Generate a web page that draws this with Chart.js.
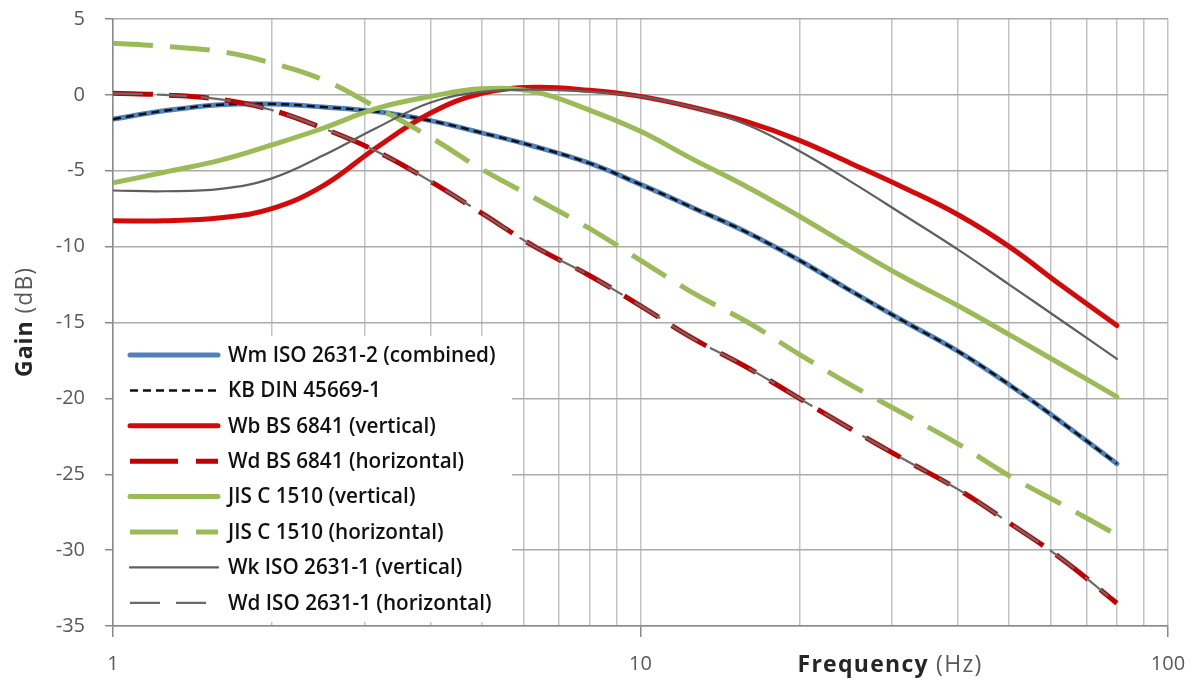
<!DOCTYPE html>
<html><head><meta charset="utf-8">
<script src="https://cdn.jsdelivr.net/npm/chart.js@4.4.1/dist/chart.umd.min.js"></script>
<style>html,body{margin:0;padding:0;background:#fff;overflow:hidden}#wrap{width:1200px;height:684px;position:relative}</style>
</head><body><div id="wrap"><canvas id="c"></canvas></div>
<script>
// ---- data ----
const freqs   = [1,1.25,1.6,2,2.5,3.15,4,5,6.3,8,10,12.5,16,20,25,31.5,40,50,63,80];
const wmISO   = [-1.6,-1.05,-0.65,-0.6,-0.8,-1.1,-1.7,-2.5,-3.4,-4.5,-5.9,-7.4,-9.1,-10.9,-12.9,-14.9,-16.9,-19.1,-21.6,-24.3];
const kbDIN   = [-1.6,-1.05,-0.65,-0.6,-0.8,-1.1,-1.7,-2.5,-3.4,-4.5,-5.9,-7.4,-9.1,-10.9,-12.9,-14.9,-16.9,-19.1,-21.6,-24.3];
const wbBS    = [-8.3,-8.3,-8.1,-7.5,-6.0,-3.5,-1.2,0.1,0.5,0.3,-0.1,-0.8,-1.8,-3.0,-4.5,-6.1,-7.9,-10.0,-12.6,-15.2];
const wdBS    = [0.1,0.0,-0.3,-1.0,-2.2,-3.7,-5.7,-7.8,-10.0,-11.9,-13.9,-16.0,-18.0,-20.0,-22.0,-24.0,-26.0,-28.2,-30.6,-33.5];
const jisV    = [-5.8,-5.1,-4.3,-3.3,-2.2,-0.9,-0.1,0.4,0.2,-1.0,-2.4,-4.2,-6.1,-8.0,-10.0,-12.0,-13.9,-15.8,-17.8,-19.9];
const jisH    = [3.4,3.2,2.85,2.1,1.0,-0.8,-2.8,-4.9,-6.8,-8.8,-10.9,-13.0,-15.0,-17.1,-19.1,-21.0,-23.0,-25.1,-27.0,-29.0];
const wkISO   = [-6.3,-6.35,-6.2,-5.5,-4.0,-2.2,-0.5,0.2,0.35,0.2,-0.1,-0.8,-2.0,-3.7,-5.7,-7.9,-10.2,-12.5,-14.9,-17.4];
const wdISO   = [0.1,0.0,-0.3,-1.0,-2.2,-3.7,-5.7,-7.8,-10.0,-11.9,-13.9,-16.0,-18.0,-20.0,-22.0,-24.0,-26.0,-28.2,-30.6,-33.5];
const seriesLabels = ['Wm ISO 2631-2 (combined)','KB DIN 45669-1','Wb BS 6841 (vertical)','Wd BS 6841 (horizontal)','JIS C 1510 (vertical)','JIS C 1510 (horizontal)','Wk ISO 2631-1 (vertical)','Wd ISO 2631-1 (horizontal)'];
const xTickValues = [1,2,3,4,5,6,7,8,9,10,20,30,40,50,60,70,80,90,100];
const xTickLabels = {1:'1',10:'10',100:'100'};
const yMin = -35, yMax = 5, yStep = 5;
const xTitleBold = 'Frequency', xTitleUnit = '(Hz)';
const yTitleBold = 'Gain', yTitleUnit = '(dB)';

const pts = arr => freqs.map((f,i)=>({x:f,y:arr[i]}));
const styles = [
  {c:'#4f81bd', w:5, d:[]},
  {c:'#111111', w:2.5, d:[8,5]},
  {c:'#d40a0a', w:5, d:[]},
  {c:'#c00000', w:5, d:[40,16]},
  {c:'#9bbb59', w:5, d:[]},
  {c:'#9bbb59', w:5, d:[40,17]},
  {c:'#5f5f5f', w:2.2, d:[]},
  {c:'#6a6a6a', w:2.2, d:[30,14]}
];
const allSeries = [wmISO,kbDIN,wbBS,wdBS,jisV,jisH,wkISO,wdISO];
const datasets = allSeries.map((arr,i)=>({
  label: seriesLabels[i], data: pts(arr),
  borderColor: styles[i].c, backgroundColor: styles[i].c,
  borderWidth: styles[i].w, borderDash: styles[i].d,
  pointRadius: 0, fill:false, tension:0.4,
  borderCapStyle: styles[i].d.length ? 'butt':'round',
  order: 8 - i
}));

const FONT = '"Open Sans", "Liberation Sans", sans-serif';

function drawTitle(ctx, bold, unit, size, target){
  const bF='700 '+size+'px '+FONT, nF='400 '+size+'px '+FONT;
  ctx.font=bF; const wb=ctx.measureText(bold+' ').width;
  ctx.font=nF; const wn=ctx.measureText(unit).width;
  const nChars = (bold+' '+unit).length;
  let ls = Math.max(0,(target-(wb+wn))/nChars);
  ctx.letterSpacing = ls.toFixed(2)+'px';
  ctx.font=bF; const wb2=ctx.measureText(bold+' ').width;
  ctx.font=nF; const wn2=ctx.measureText(unit).width;
  const s = -(wb2+wn2)/2;
  ctx.textAlign='left'; ctx.textBaseline='middle';
  ctx.font=bF; ctx.fillStyle='#262626'; ctx.fillText(bold, s, 0);
  ctx.font=nF; ctx.fillStyle='#595959'; ctx.fillText(unit, s+wb2, 0);
  ctx.letterSpacing='0px';
}

const custom = {
  id:'custom',
  afterDatasetsDraw(chart){
    const ctx = chart.ctx;
    ctx.save();
    const bx=114, by=336, bw=398, bh=286;
    ctx.fillStyle='#ffffff';
    ctx.fillRect(bx,by,bw,bh);
    const rowY0=355, rowStep=35.4, lx0=130, lx1=218, tx=228;
    ctx.font = '600 20px ' + FONT;
    const w0 = ctx.measureText(seriesLabels[0]).width;
    const fs = Math.max(14, Math.min(24, 20*268/w0));
    chart.data.datasets.forEach((ds,i)=>{
      const y = rowY0 + i*rowStep;
      ctx.beginPath();
      ctx.strokeStyle = ds.borderColor;
      ctx.lineWidth = ds.borderWidth;
      let dash = ds.borderDash;
      if (i===3 || i===5) dash=[48,18];
      if (i===7) dash=[30,16];
      ctx.setLineDash(dash);
      ctx.lineCap = dash.length ? 'butt':'round';
      ctx.moveTo(lx0,y); ctx.lineTo(lx1,y); ctx.stroke();
      ctx.setLineDash([]);
      ctx.fillStyle='#111111';
      ctx.font = '600 '+fs.toFixed(1)+'px '+FONT;
      ctx.textAlign='left'; ctx.textBaseline='middle';
      ctx.fillText(ds.label, tx, y+1);
    });
    ctx.restore();
  },
  afterDraw(chart){
    const ctx = chart.ctx;
    ctx.save();
    ctx.translate(890, 665);
    drawTitle(ctx, xTitleBold, xTitleUnit, 23, 185);
    ctx.restore();
    ctx.save();
    ctx.translate(25, 322); ctx.rotate(-Math.PI/2);
    drawTitle(ctx, yTitleBold, yTitleUnit, 23, 110);
    ctx.restore();
  }
};

new Chart(document.getElementById('c'), {
  type:'line',
  data:{ datasets },
  plugins:[custom],
  options:{
    responsive:true, maintainAspectRatio:false, animation:false,
    layout:{ padding:{ left:0, right:32, top:19, bottom:0 } },
    plugins:{ legend:{display:false}, tooltip:{enabled:false}, title:{display:false} },
    scales:{
      x:{
        type:'logarithmic', min:1, max:100,
        afterBuildTicks: s => { s.ticks = xTickValues.map(v=>({value:v})); },
        afterFit: s => { s.height = 58; s.paddingLeft = 0; s.paddingRight = 0; },
        ticks:{ autoSkip:false, maxRotation:0, padding:15, color:'#595959',
          font:{ family:FONT, size:20 },
          callback: v => xTickLabels[v] || '' },
        grid:{ color:'#c3c3c3', lineWidth:1.5, tickLength:11,
          tickColor: c => (c.tick && xTickLabels[c.tick.value]) ? '#8a8a8a' : 'rgba(0,0,0,0)', tickWidth:1.5 },
        border:{ color:'#8a8a8a', width:1.5 }
      },
      y:{
        min:yMin, max:yMax,
        afterFit: s => { s.width = 113; s.paddingTop = 0; s.paddingBottom = 0; },
        ticks:{ stepSize:yStep, padding:20, color:'#595959', font:{ family:FONT, size:20 } },
        grid:{ color:'#ababab', lineWidth:1.5, tickLength:8, tickColor:'#8a8a8a' },
        border:{ color:'#8a8a8a', width:1.5 }
      }
    }
  }
});
</script></body></html>
